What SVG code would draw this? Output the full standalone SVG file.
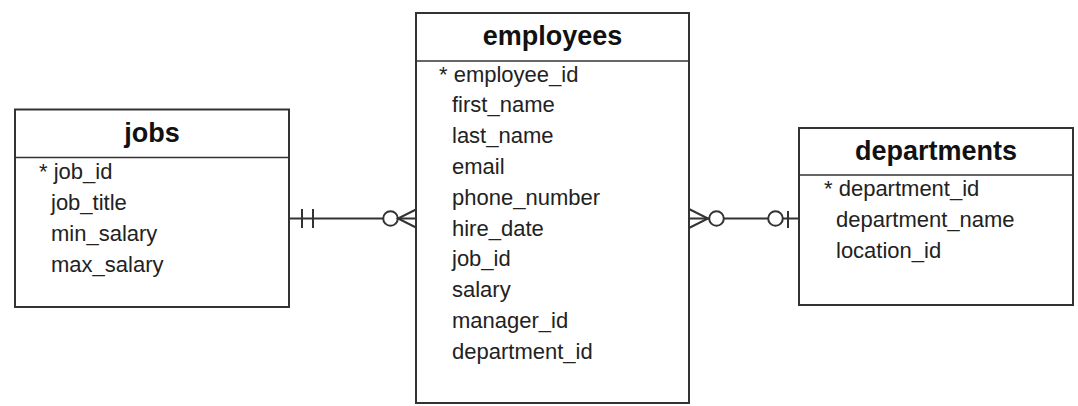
<svg xmlns="http://www.w3.org/2000/svg" width="1078" height="406" viewBox="0 0 1078 406">
<style>
.box{fill:#fff;stroke:#333;stroke-width:2}
.sep{stroke:#333;stroke-width:1.5}
.title{font-family:"Liberation Sans",Arial,sans-serif;font-weight:bold;font-size:27px;fill:#111;text-anchor:middle}
.row{font-family:"Liberation Sans",Arial,sans-serif;font-size:22px;fill:#222}
.ln{stroke:#333;stroke-width:2;fill:none}
.ci{stroke:#333;stroke-width:2;fill:#fff}
</style>
<rect width="1078" height="406" fill="#fff"/>
<g id="connectors">
  <line class="ln" x1="289" y1="218.5" x2="416" y2="218.5"/>
  <line class="ln" x1="302" y1="209" x2="302" y2="228"/>
  <line class="ln" x1="313" y1="209" x2="313" y2="228"/>
  <circle class="ci" cx="390.5" cy="218.5" r="7.3"/>
  <path class="ln" d="M416 209.5 L398 218.5 L416 227.5"/>
  <line class="ln" x1="689" y1="218.5" x2="799" y2="218.5"/>
  <path class="ln" d="M689 209 L708 218.5 L689 228"/>
  <circle class="ci" cx="716.5" cy="218.5" r="7.3"/>
  <circle class="ci" cx="775.5" cy="218.5" r="7.3"/>
  <line class="ln" x1="788" y1="211" x2="788" y2="228"/>
</g>
<g id="jobs">
  <rect class="box" x="15" y="109.5" width="274" height="197.5"/>
  <line class="sep" x1="15" y1="157.5" x2="289" y2="157.5"/>
  <text class="title" x="152" y="141.5">jobs</text>
  <text class="row" x="39" y="178.5">* job_id</text>
  <text class="row" x="51" y="209.5">job_title</text>
  <text class="row" x="51" y="240.5">min_salary</text>
  <text class="row" x="51" y="271.5">max_salary</text>
</g>
<g id="employees">
  <rect class="box" x="416" y="13" width="273" height="390"/>
  <line class="sep" x1="416" y1="61" x2="689" y2="61"/>
  <text class="title" x="552.5" y="45">employees</text>
  <text class="row" x="439" y="81.5">* employee_id</text>
  <text class="row" x="452" y="112.3">first_name</text>
  <text class="row" x="452" y="143.1">last_name</text>
  <text class="row" x="452" y="173.9">email</text>
  <text class="row" x="452" y="204.7">phone_number</text>
  <text class="row" x="452" y="235.5">hire_date</text>
  <text class="row" x="452" y="266.3">job_id</text>
  <text class="row" x="452" y="297.1">salary</text>
  <text class="row" x="452" y="327.9">manager_id</text>
  <text class="row" x="452" y="358.7">department_id</text>
</g>
<g id="departments">
  <rect class="box" x="799" y="128" width="274" height="177"/>
  <line class="sep" x1="799" y1="175" x2="1073" y2="175"/>
  <text class="title" x="936" y="160">departments</text>
  <text class="row" x="824" y="196">* department_id</text>
  <text class="row" x="836" y="227">department_name</text>
  <text class="row" x="836" y="258">location_id</text>
</g>
</svg>
